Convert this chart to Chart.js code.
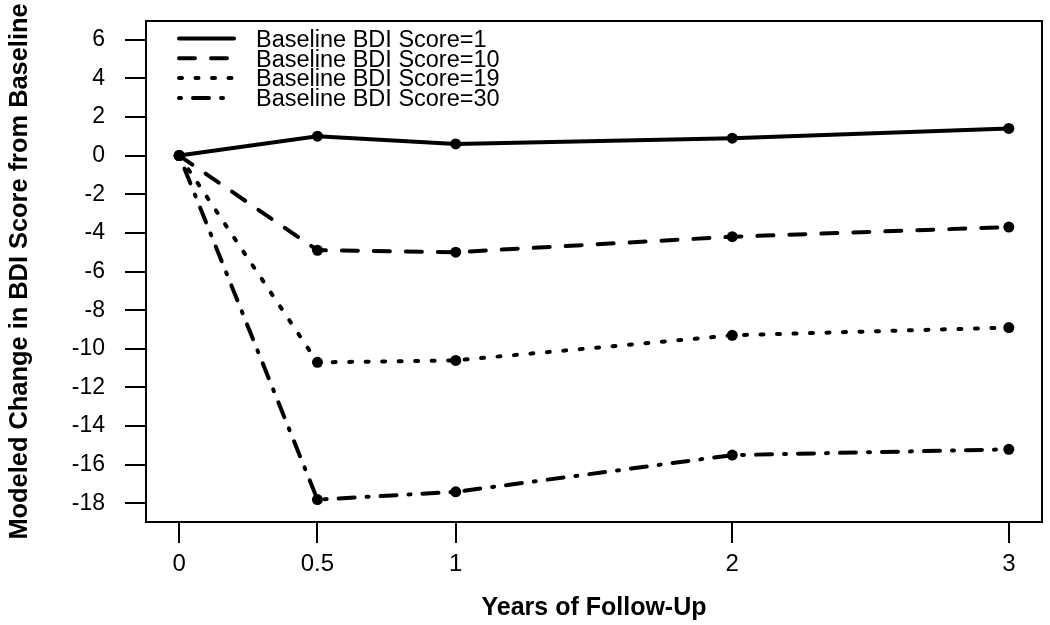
<!DOCTYPE html>
<html>
<head>
<meta charset="utf-8">
<script src="https://cdn.jsdelivr.net/npm/chart.js@4"></script>
<style>
html,body{margin:0;padding:0;background:#fff;}
canvas{display:block;}
</style>
</head>
<body>
<canvas id="c" width="1050" height="625"></canvas>
<script>
// ---- data ----
const years = [0, 0.5, 1, 2, 3];
const xTickValues = [0, 0.5, 1, 2, 3];
const yTickValues = [-18, -16, -14, -12, -10, -8, -6, -4, -2, 0, 2, 4, 6];
const seriesLabels = ["Baseline BDI Score=1", "Baseline BDI Score=10", "Baseline BDI Score=19", "Baseline BDI Score=30"];
const score1 = [0, 1.0, 0.6, 0.9, 1.4];
const score10 = [0, -4.9, -5.0, -4.2, -3.7];
const score19 = [0, -10.7, -10.6, -9.3, -8.9];
const score30 = [0, -17.8, -17.4, -15.5, -15.2];
const xTitle = "Years of Follow-Up";
const yTitle = "Modeled Change in BDI Score from Baseline";

const FONT = '"Liberation Sans", Arial, Helvetica, sans-serif';
const dashes = [[], [16, 16], [3, 13.5], [2, 12, 16, 12]];
const allSeries = [score1, score10, score19, score30];

const datasets = allSeries.map((s, i) => ({
  label: seriesLabels[i],
  data: years.map((x, j) => ({x: x, y: s[j]})),
  borderColor: '#000',
  backgroundColor: '#000',
  borderWidth: 4,
  borderDash: dashes[i],
  borderCapStyle: 'round',
  pointRadius: 5.5,
  pointBorderWidth: 0,
  pointBackgroundColor: '#000',
  tension: 0,
  fill: false
}));

const framePlugin = {
  id: 'frame',
  afterDraw(chart) {
    const ctx = chart.ctx, a = chart.chartArea;
    ctx.save();
    ctx.strokeStyle = '#000';
    ctx.lineWidth = 2;
    ctx.setLineDash([]);
    ctx.strokeRect(a.left, a.top, a.right - a.left, a.bottom - a.top);
    ctx.fillStyle = '#000';
    ctx.font = 'bold 25px ' + FONT;
    ctx.textAlign = 'center';
    ctx.textBaseline = 'alphabetic';
    ctx.fillText(xTitle, (a.left + a.right) / 2, 615);
    ctx.save();
    ctx.font = 'bold 25.4px ' + FONT;
    ctx.translate(27, (a.top + a.bottom) / 2);
    ctx.rotate(-Math.PI / 2);
    ctx.fillText(yTitle, 0, 0);
    ctx.restore();
    ctx.font = '23.5px ' + FONT;
    ctx.textAlign = 'left';
    chart.data.datasets.forEach((ds, i) => {
      const y = 38.5 + 19.8 * i;
      ctx.beginPath();
      ctx.lineWidth = 4;
      ctx.lineCap = 'round';
      ctx.setLineDash(ds.borderDash);
      ctx.moveTo(179, y);
      ctx.lineTo(234, y);
      ctx.stroke();
      ctx.setLineDash([]);
      ctx.fillText(ds.label, 256, y + 8.3);
    });
    ctx.restore();
  }
};

new Chart(document.getElementById('c'), {
  type: 'line',
  data: { datasets: datasets },
  options: {
    responsive: false,
    animation: false,
    devicePixelRatio: 1,
    layout: { padding: { top: 21, right: 8, left: 0, bottom: 0 } },
    plugins: { legend: { display: false }, tooltip: { enabled: false } },
    scales: {
      x: {
        type: 'linear',
        min: -0.12, max: 3.12,
        afterBuildTicks: s => { s.ticks = xTickValues.map(v => ({value: v})); },
        afterFit: s => { s.height = 103; s.paddingLeft = 0; s.paddingRight = 0; },
        grid: { drawOnChartArea: false, drawTicks: true, tickLength: 21, color: '#000', lineWidth: 2 },
        border: { display: false },
        ticks: { color: '#000', font: { size: 24, family: FONT }, padding: 7, maxRotation: 0, autoSkip: false,
                 callback: v => String(v) }
      },
      y: {
        type: 'linear',
        min: -18.96, max: 6.96,
        afterBuildTicks: s => { s.ticks = yTickValues.map(v => ({value: v})); },
        afterFit: s => { s.width = 146; s.paddingTop = 0; s.paddingBottom = 0; },
        grid: { drawOnChartArea: false, drawTicks: true, tickLength: 21, color: '#000', lineWidth: 2 },
        border: { display: false },
        ticks: { color: '#000', font: { size: 23, family: FONT }, padding: 20, autoSkip: false,
                 callback: v => String(v) }
      }
    }
  },
  plugins: [framePlugin]
});
</script>
</body>
</html>
